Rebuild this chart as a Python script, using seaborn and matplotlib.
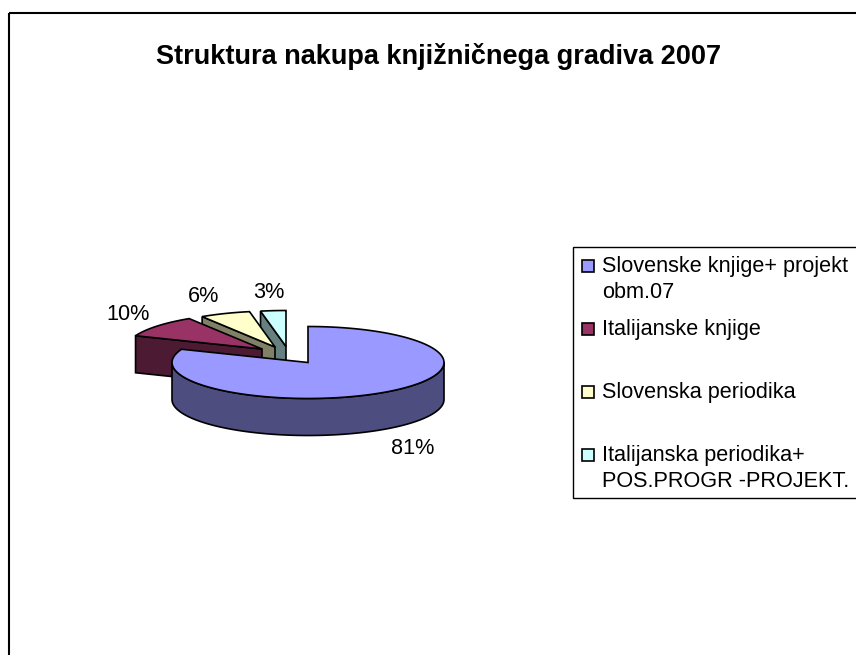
import numpy as np
import matplotlib
matplotlib.use("Agg")
import matplotlib.pyplot as plt
from matplotlib.patches import Rectangle
import seaborn as sns

# ── data ─────────────────────────────────────────
TITLE = "Struktura nakupa knjižničnega gradiva 2007"
LABELS = [
    "Slovenske knjige+ projekt\nobm.07",
    "Italijanske knjige",
    "Slovenska periodika",
    "Italijanska periodika+\nPOS.PROGR -PROJEKT.",
]
VALUES = [81, 10, 6, 3]
COLORS = ["#9999FF", "#993366", "#FFFFCC", "#CCFFFF"]

# ── layout (pixels of the 856x655 image) ─────────
CENTER = (308, 362.5)
RX, RY = 136, 36
DEPTH = 37
EXPLODE = [(0, 0), (-46, -13.5), (-33, -15.5), (-22, -16)]
VALUE_POS = [(413, 449), (128, 315), (204, 296), (269, 293)]
LEGEND_Y = [266, 329, 392, 455]
LINE_H = 26
FONT = 15.6

sns.set_theme(style="white")
plt.rcParams["font.family"] = ["Liberation Sans", "DejaVu Sans"]

palette = sns.color_palette(COLORS)
shades = [tuple(v * 0.5 for v in c) for c in palette]

fig = plt.figure(figsize=(8.56, 6.55), dpi=100, facecolor="white")
ax = fig.add_axes([0, 0, 1, 1])
ax.set_xlim(0, 856)
ax.set_ylim(655, 0)
ax.axis("off")


def rim(cx, cy, t0, t1, drop=0):
    t = np.radians(np.linspace(t0, t1, 120))
    return np.column_stack([cx + RX * np.sin(t), cy - RY * np.cos(t) + drop])


# angles run clockwise from 12 o'clock
edges = np.concatenate([[0], np.cumsum(VALUES)]) / np.sum(VALUES) * 360

# back slices first, the big one goes on top
for i in reversed(range(len(VALUES))):
    t0, t1 = edges[i], edges[i + 1]
    cx = CENTER[0] + EXPLODE[i][0]
    cy = CENTER[1] + EXPLODE[i][1]

    # cut face, only seen when it looks towards the viewer
    if np.sin(np.radians(t0)) < 0:
        p = rim(cx, cy, t0, t0)[0]
        face = [p, (cx, cy), (cx, cy + DEPTH), (p[0], p[1] + DEPTH)]
        ax.fill(*zip(*face), facecolor=shades[i], edgecolor="black", lw=1.2, zorder=2 + 3 * (3 - i))

    # outer wall, front half of the rim
    a, b = max(t0, 90), min(t1, 270)
    if a < b:
        wall = np.vstack([rim(cx, cy, a, b), rim(cx, cy, a, b, DEPTH)[::-1]])
        ax.fill(wall[:, 0], wall[:, 1], facecolor=shades[i], edgecolor="black", lw=1.2, zorder=3 + 3 * (3 - i))

    top = np.vstack([[(cx, cy)], rim(cx, cy, t0, t1)])
    ax.fill(top[:, 0], top[:, 1], facecolor=palette[i], edgecolor="black", lw=1.2, zorder=4 + 3 * (3 - i))

for v, (x, y) in zip(VALUES, VALUE_POS):
    ax.text(x, y, f"{v}%", ha="center", va="center", fontsize=FONT, color="black", zorder=30)

ax.text(439, 56, TITLE, ha="center", va="center", fontsize=19.5, fontweight="bold", color="black")

# chart frame runs off the image on the right and bottom
ax.add_patch(Rectangle((9.5, 12.5), 900, 700, fill=False, edgecolor="black", lw=1.5, zorder=1))

# legend box
ax.add_patch(Rectangle((573.5, 247), 320, 251, fill=False, edgecolor="black", lw=1, zorder=1))
for label, color, y in zip(LABELS, palette, LEGEND_Y):
    ax.add_patch(Rectangle((582, y - 6), 12, 12, facecolor=color, edgecolor="black", lw=1.2))
    for j, line in enumerate(label.split("\n")):
        ax.text(602, y + 6 + j * LINE_H, line, ha="left", va="baseline", fontsize=FONT, color="black")

fig.savefig("out.png", dpi=100)
